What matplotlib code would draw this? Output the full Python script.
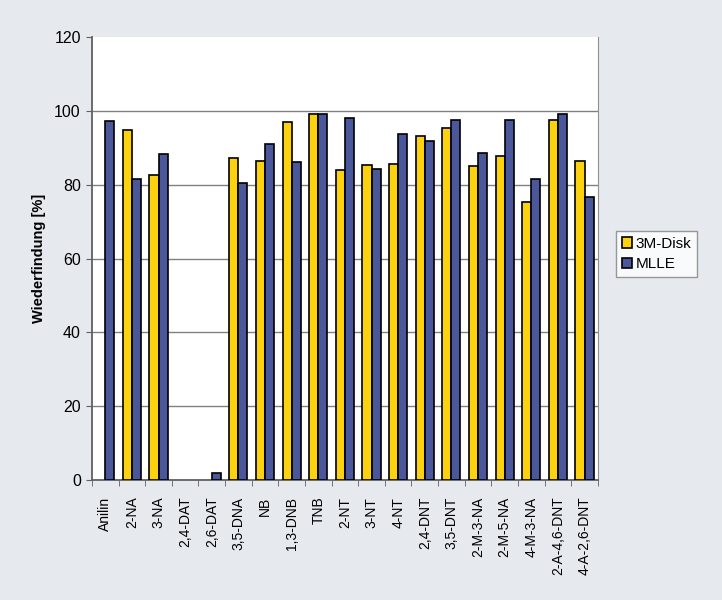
import numpy as np
import matplotlib.pyplot as plt

categories = ['Anilin', '2-NA', '3-NA', '2,4-DAT', '2,6-DAT', '3,5-DNA', 'NB', '1,3-DNB',
              'TNB', '2-NT', '3-NT', '4-NT', '2,4-DNT', '3,5-DNT', '2-M-3-NA', '2-M-5-NA',
              '4-M-3-NA', '2-A-4,6-DNT', '4-A-2,6-DNT']
disk_3m = [0, 94.8, 82.6, 0, 0, 87.3, 86.4, 97.0, 99.2, 84.0, 85.4, 85.6, 93.2, 95.4,
           85.0, 87.8, 75.3, 97.5, 86.4]
mlle = [97.3, 81.6, 88.3, 0, 1.8, 80.5, 91.0, 86.2, 99.2, 98.0, 84.3, 93.8, 92.0, 97.5,
        88.6, 97.5, 81.6, 99.2, 76.7]

plt.rcParams['font.family'] = ['Liberation Sans', 'DejaVu Sans']

fig = plt.figure(figsize=(7.22, 6), dpi=100)
fig.patch.set_facecolor('#e6eaef')
ax = fig.add_axes([0.1274, 0.2, 0.7006, 0.738])
ax.set_facecolor('white')

x = np.arange(len(categories))
w = 0.34
d3 = np.array(disk_3m)
ml = np.array(mlle)
# zero values get no bar at all (no outline on the baseline)
ax.bar((x - w / 2)[d3 > 0], d3[d3 > 0], w, color='#fcd20f', edgecolor='black',
       linewidth=1.2, label='3M-Disk', zorder=3)
ax.bar((x + w / 2)[ml > 0], ml[ml > 0], w, color='#4a579b', edgecolor='black',
       linewidth=1.2, label='MLLE', zorder=3)

ax.set_xlim(-0.5, len(categories) - 0.5)
ax.set_ylim(0, 120)
ax.set_yticks(np.arange(0, 121, 20))
for yv in range(20, 101, 20):
    ax.axhline(yv, color='#808080', linewidth=1.0, zorder=0)

ax.set_xticks(x)
ax.set_xticklabels(categories, rotation=90, fontsize=10, va='top')
ax.set_xticks(np.arange(-0.5, len(categories), 1), minor=True)
ax.tick_params(axis='x', which='major', length=0, pad=12)
ax.tick_params(axis='x', which='minor', length=4, color='#606060')
ax.tick_params(axis='y', labelsize=11.5, length=4, color='#606060', pad=4)

for s in ['left', 'bottom']:
    ax.spines[s].set_color('#606060')
    ax.spines[s].set_linewidth(1.3)
ax.spines['top'].set_visible(False)
ax.spines['right'].set_color('#909090')

ax.set_ylabel('Wiederfindung [%]', fontsize=10.5, fontweight='bold', labelpad=6)

leg = ax.legend(loc='center left', bbox_to_anchor=(1.02, 0.51), fontsize=11,
                frameon=True, fancybox=False, edgecolor='#808080',
                handlelength=0.7, handleheight=0.7, handletextpad=0.2,
                borderpad=0.4, labelspacing=0.4)
leg.get_frame().set_linewidth(1.0)

fig.savefig('out.png', dpi=100, facecolor=fig.get_facecolor())
